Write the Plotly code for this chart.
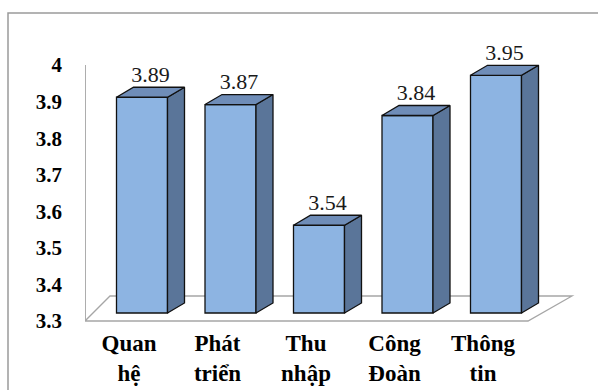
import plotly.graph_objects as go

categories = ["Quan<br>hệ", "Phát<br>triển", "Thu<br>nhập", "Công<br>Đoàn", "Thông<br>tin"]
values = [3.89, 3.87, 3.54, 3.84, 3.95]
tick_vals = [3.3, 3.4, 3.5, 3.6, 3.7, 3.8, 3.9, 4.0]
tick_text = ["3.3", "3.4", "3.5", "3.6", "3.7", "3.8", "3.9", "4"]

BASE = 3.3
W = 598
H = 390
SERIF = "serif"
# pixel layout of plot area
L, R, T, B = 85, 580, 57, 325
PX_PER_CAT = 88.5
CAT0_PX = 142
PX_PER_UNIT = 365.7
BASE_PX = 313

x_lo = (L - CAT0_PX) / PX_PER_CAT
x_hi = (R - CAT0_PX) / PX_PER_CAT
y_hi = BASE + (BASE_PX - T) / PX_PER_UNIT
y_lo = BASE - (B - BASE_PX) / PX_PER_UNIT

bar_w = 51 / PX_PER_CAT
ddx = 17 / PX_PER_CAT
ddy = 10 / PX_PER_UNIT

FRONT = "#8DB4E2"
TOP = "#6F8DB8"
SIDE = "#5A7599"
EDGE = "#111111"

fig = go.Figure()

# floor (3D base plane) and left wall edge, drawn beneath the bars
sh = 8 / PX_PER_UNIT
fx = [x_lo, (528 - CAT0_PX) / PX_PER_CAT, (572 - CAT0_PX) / PX_PER_CAT, (110 - CAT0_PX) / PX_PER_CAT]
fy = [BASE - sh, BASE - sh, BASE + 17 / PX_PER_UNIT, BASE + 17 / PX_PER_UNIT]
path = "M %f,%f L %f,%f L %f,%f L %f,%f Z" % (fx[0], fy[0], fx[1], fy[1], fx[2], fy[2], fx[3], fy[3])
fig.add_shape(type="path", path=path, xref="x", yref="y", layer="below",
              line=dict(color="#A6A6A6", width=1.3), fillcolor="white")
fig.add_shape(type="line", xref="x", yref="y", layer="below",
              x0=x_lo + 0.003, x1=x_lo + 0.003, y0=BASE - sh, y1=4.0 - sh,
              line=dict(color="#A6A6A6", width=1.3))

# front faces
fig.add_trace(go.Bar(x=list(range(len(values))), y=[v - BASE for v in values], base=BASE,
                     width=bar_w, marker=dict(color=FRONT, line=dict(color=EDGE, width=1.3)),
                     showlegend=False, hoverinfo="skip", cliponaxis=False))

# side and top faces
for i, v in enumerate(values):
    xl = i - bar_w / 2
    xr = i + bar_w / 2
    fig.add_trace(go.Scatter(x=[xr, xr + ddx, xr + ddx, xr, xr], y=[v, v + ddy, BASE + ddy, BASE, v],
                             mode="lines", fill="toself", fillcolor=SIDE,
                             line=dict(color=EDGE, width=1.3), hoverinfo="skip", showlegend=False))
    fig.add_trace(go.Scatter(x=[xl, xl + ddx, xr + ddx, xr, xl], y=[v, v + ddy, v + ddy, v, v],
                             mode="lines", fill="toself", fillcolor=TOP,
                             line=dict(color=EDGE, width=1.3), hoverinfo="skip", showlegend=False))

# value labels
fig.add_trace(go.Scatter(x=[i + ddx / 2 for i in range(len(values))], y=[v + ddy for v in values],
                         mode="text", text=[f"{v:.2f}" for v in values], textposition="top center",
                         textfont=dict(family=SERIF, size=22, color="#1a1a1a"), cliponaxis=False,
                         hoverinfo="skip", showlegend=False))

# outer border
fig.add_shape(type="rect", xref="paper", yref="paper",
              x0=(8 - L) / (R - L), x1=(W + 20 - L) / (R - L),
              y0=(B - (H + 20)) / (B - T), y1=(B - 13) / (B - T),
              line=dict(color="#9A9A9A", width=1.5), fillcolor="rgba(0,0,0,0)", layer="below")

fig.update_layout(
    width=W, height=H,
    margin=dict(l=L, r=W - R, t=T, b=H - B),
    paper_bgcolor="white", plot_bgcolor="white",
    font=dict(family=SERIF),
    xaxis=dict(range=[x_lo, x_hi], tickvals=list(range(len(categories))),
               ticktext=["<b>%s</b>" % c for c in categories],
               showgrid=False, zeroline=False, showline=False, ticks="", automargin=False,
               tickfont=dict(family=SERIF, size=23, color="black"),
               ticklabelshift=-13, ticklabelstandoff=2),
    yaxis=dict(range=[y_lo, y_hi], tickvals=tick_vals, ticktext=["<b>%s</b>" % t for t in tick_text],
               showgrid=False, zeroline=False, showline=False, ticks="", automargin=False,
               tickfont=dict(family=SERIF, size=21, color="black"),
               ticklabelshift=8, ticklabelstandoff=22),
    showlegend=False,
)

fig.write_html("out.html")
